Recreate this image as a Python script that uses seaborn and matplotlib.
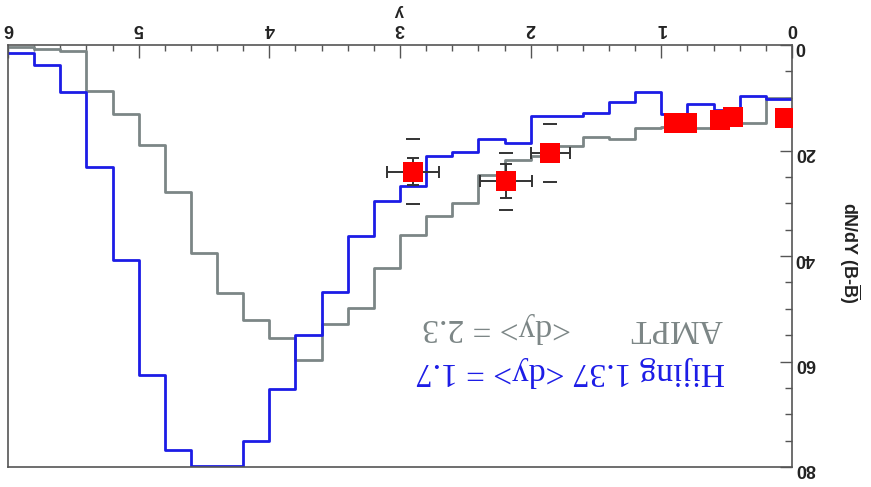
import numpy as np
import pandas as pd
import matplotlib
matplotlib.use("Agg")
import matplotlib.pyplot as plt
import seaborn as sns
from matplotlib.ticker import MultipleLocator

# ---------------- data ----------------
bin_edges = [0.0, 0.2, 0.4, 0.6, 0.8, 1.0, 1.2, 1.4, 1.6, 1.8, 2.0, 2.2, 2.4, 2.6, 2.8, 3.0,
             3.2, 3.4, 3.6, 3.8, 4.0, 4.2, 4.4, 4.6, 4.8, 5.0, 5.2, 5.4, 5.6, 5.8, 6.0]
hijing = [10.3, 9.7, 12.3, 11.2, 13.0, 9.0, 10.9, 12.8, 13.5, 13.5, 18.5, 17.8, 20.2, 21.0, 26.8,
          29.5, 36.2, 46.8, 55.0, 65.2, 75.0, 79.8, 79.8, 76.7, 62.6, 40.8, 23.1, 9.0, 3.8, 1.6]
ampt = [10.1, 14.7, 14.8, 15.8, 15.6, 15.7, 17.8, 17.4, 19.2, 21.0, 21.8, 24.6, 29.9, 32.4, 36.1,
        42.3, 49.8, 52.9, 59.7, 55.6, 52.1, 47.0, 39.4, 27.9, 19.0, 13.0, 8.8, 1.1, 0.8, 0.3]

data_y = [2.90, 2.19, 1.85, 0.90, 0.80, 0.55, 0.45, 0.05]
data_val = [24.0, 25.8, 20.5, 14.8, 14.8, 14.3, 13.7, 13.8]
data_xerr = [0.20, 0.20, 0.15, 0.05, 0.05, 0.05, 0.05, 0.05]
data_yerr = [2.5, 3.2, 1.5, 0.8, 0.8, 0.8, 0.8, 0.8]
sys_y = [2.90, 2.19, 1.85]
sys_val = [24.0, 25.8, 20.5]
sys_err = [6.2, 5.4, 5.5]

x_ticks = [0, 1, 2, 3, 4, 5, 6]
y_ticks = [0, 20, 40, 60, 80]

# ---------------- style ----------------
sns.set_style("white")
plt.rcParams["font.family"] = ["Liberation Sans", "DejaVu Sans"]
plt.rcParams["mathtext.fontset"] = "custom"
plt.rcParams["mathtext.rm"] = "Liberation Sans:bold"
plt.rcParams["mathtext.bf"] = "Liberation Sans:bold"

W, H = 871, 487
fig = plt.figure(figsize=(W / 100, H / 100), dpi=100)
ax = fig.add_axes([8 / W, 1 - 467 / H, (792 - 8) / W, (467 - 45) / H])

centers = [(a + b) / 2 for a, b in zip(bin_edges[:-1], bin_edges[1:])]
df = pd.DataFrame({"y": centers, "hijing": hijing, "ampt": ampt})

blue = "#1c1ce6"
grey = "#7c8686"

sns.histplot(data=df, x="y", weights="ampt", bins=bin_edges, element="step", fill=False,
             color=grey, linewidth=2.0, ax=ax)
sns.histplot(data=df, x="y", weights="hijing", bins=bin_edges, element="step", fill=False,
             color=blue, linewidth=2.0, ax=ax)

pts = pd.DataFrame({"y": data_y, "v": data_val})
ax.errorbar(data_y, data_val, xerr=data_xerr, yerr=data_yerr, fmt="none",
            ecolor="#333333", elinewidth=1.4, capsize=4, capthick=1.4, zorder=4)
sns.scatterplot(data=pts, x="y", y="v", marker="s", s=200, color="#ff0000",
                edgecolor="#ff0000", linewidth=0, ax=ax, zorder=5)
sysdf = pd.DataFrame({"y": sys_y * 2,
                      "v": [a - b for a, b in zip(sys_val, sys_err)] + [a + b for a, b in zip(sys_val, sys_err)]})
sns.scatterplot(data=sysdf, x="y", y="v", marker="_", s=90, color="#333333",
                linewidth=1.4, ax=ax, zorder=4)

ax.set_xlim(6, 0)
ax.set_ylim(80, 0)
ax.set_xlabel("")
ax.set_ylabel("")

ax.xaxis.tick_top()
ax.yaxis.tick_right()
ax.set_xticks(x_ticks)
ax.set_yticks(y_ticks)
ax.xaxis.set_minor_locator(MultipleLocator(0.2))
ax.yaxis.set_minor_locator(MultipleLocator(5))
ax.tick_params(axis="both", which="both", direction="in", color="#555555", width=1.0)
ax.tick_params(axis="x", which="major", length=9, pad=6, labelrotation=180,
               labelsize=13, labelcolor="#222222")
ax.tick_params(axis="x", which="minor", length=4.5)
ax.tick_params(axis="y", which="major", length=9, pad=2, labelrotation=180,
               labelsize=13, labelcolor="#222222")
ax.tick_params(axis="y", which="minor", length=5)
for lab in ax.get_xticklabels() + ax.get_yticklabels():
    lab.set_fontweight("bold")
for sp in ax.spines.values():
    sp.set_color("#555555")
    sp.set_linewidth(1.2)

# axis titles (rotated like the reference)
fig.text(399 / W, 1 - 12 / H, "y", rotation=180, ha="center", va="center",
         fontsize=12, fontweight="bold", color="#222222")
fig.text(850 / W, 1 - 253 / H, r"dN/dY (B-$\overline{\mathrm{B}}$)", rotation=270,
         ha="center", va="center", fontsize=13, fontweight="bold", color="#222222")

# legend texts
serif = ["Liberation Serif", "DejaVu Serif"]
fig.text(570 / W, 1 - 372 / H, "Hijing 1.37 <dy> = 1.7", rotation=180, ha="center",
         va="center", fontsize=24, color=blue, family=serif)
fig.text(676 / W, 1 - 328 / H, "AMPT", rotation=180, ha="center", va="center",
         fontsize=24, color=grey, family=serif)
fig.text(497 / W, 1 - 328 / H, "<dy> = 2.3", rotation=180, ha="center", va="center",
         fontsize=24, color=grey, family=serif)

fig.savefig("out.png", dpi=100)
